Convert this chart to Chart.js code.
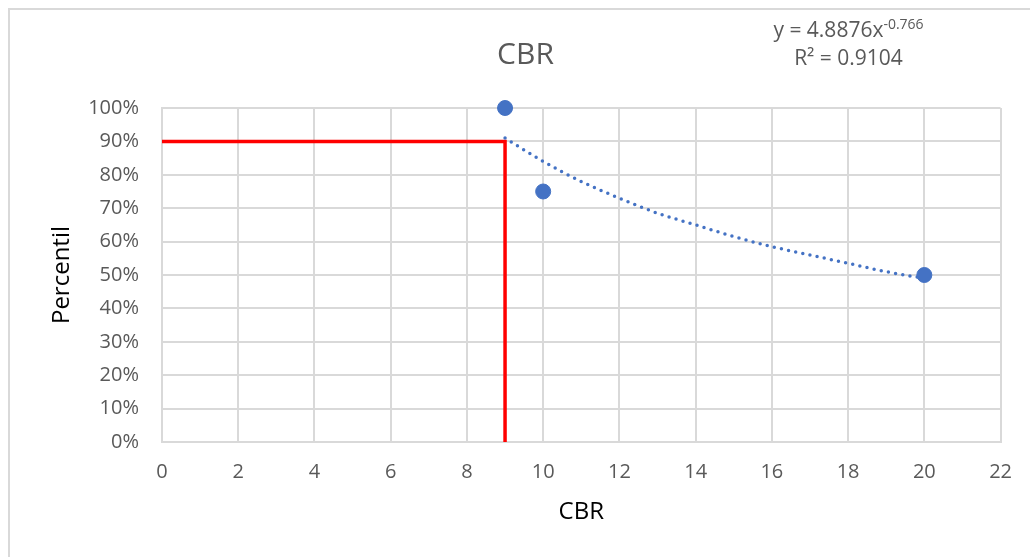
<!DOCTYPE html>
<html><head><meta charset="utf-8">
<script src="https://cdn.jsdelivr.net/npm/chart.js@4/dist/chart.umd.min.js"></script>
<style>html,body{margin:0;padding:0;background:#fff;} canvas{display:block;}</style>
</head><body>
<canvas id="c" width="1030" height="557"></canvas>
<script>
const chartTitle = "CBR";
const xAxisTitle = "CBR";
const yAxisTitle = "Percentil";
const equationMain = "y = 4.8876x";
const equationExp = "-0.766";
const rSquaredText = "R² = 0.9104";

const cbrValues = [9, 10, 20];
const percentilValues = [1.00, 0.75, 0.50];

const trendX = [9, 10, 11, 12, 13, 14, 15, 16, 17, 18, 19, 20];
const trendY = [0.91, 0.84, 0.78, 0.73, 0.685, 0.65, 0.615, 0.585, 0.56, 0.535, 0.51, 0.49];

const refX = [0, 9, 9];
const refY = [0.90, 0.90, 0];

const xTickValues = [0, 2, 4, 6, 8, 10, 12, 14, 16, 18, 20, 22];
const yTickValues = [0, 0.1, 0.2, 0.3, 0.4, 0.5, 0.6, 0.7, 0.8, 0.9, 1.0];
const yTickLabels = ["0%", "10%", "20%", "30%", "40%", "50%", "60%", "70%", "80%", "90%", "100%"];

const FONT = "'Open Sans', 'Noto Sans', sans-serif";
const GRAY = "#595959";
const GRID = "#d9d9d9";

const toPts = (xs, ys) => xs.map((x, i) => ({x: x, y: ys[i]}));

const frame = {
  id: 'frame',
  beforeDraw(chart) {
    const ctx = chart.ctx;
    ctx.save();
    ctx.fillStyle = '#fff';
    ctx.fillRect(0, 0, chart.width, chart.height);
    ctx.strokeStyle = GRID;
    ctx.lineWidth = 2;
    ctx.beginPath();
    ctx.moveTo(9, chart.height);
    ctx.lineTo(9, 9);
    ctx.lineTo(chart.width, 9);
    ctx.stroke();
    ctx.restore();
  }
};

const texts = {
  id: 'texts',
  afterDraw(chart) {
    const ctx = chart.ctx;
    ctx.save();
    ctx.fillStyle = GRAY;
    ctx.textBaseline = 'alphabetic';
    ctx.textAlign = 'center';
    ctx.font = "30px " + FONT;
    ctx.fillText(chartTitle, 525.5, 64);
    const cx = 848.5;
    ctx.font = "21px " + FONT;
    const w1 = ctx.measureText(equationMain).width;
    ctx.font = "14px " + FONT;
    const w2 = ctx.measureText(equationExp).width;
    const start = cx - (w1 + w2) / 2;
    ctx.textAlign = 'left';
    ctx.font = "21px " + FONT;
    ctx.fillText(equationMain, start, 37);
    ctx.font = "14px " + FONT;
    ctx.fillText(equationExp, start + w1, 29);
    ctx.textAlign = 'center';
    ctx.font = "21px " + FONT;
    ctx.fillText(rSquaredText, cx, 65);
    ctx.restore();
  }
};

new Chart(document.getElementById('c'), {
  type: 'scatter',
  data: {
    datasets: [
      {
        label: 'Percentil',
        data: toPts(cbrValues, percentilValues),
        backgroundColor: '#4472C4',
        borderColor: '#4472C4',
        pointRadius: 7.5,
        pointHoverRadius: 7.5,
        showLine: false,
        clip: false,
        order: 0
      },
      {
        label: 'Tendencia',
        data: toPts(trendX, trendY),
        type: 'line',
        borderColor: '#4472C4',
        borderWidth: 3.5,
        borderDash: [0, 7.3],
        borderCapStyle: 'round',
        pointRadius: 0,
        fill: false,
        cubicInterpolationMode: 'monotone',
        order: 1
      },
      {
        label: 'Referencia',
        data: toPts(refX, refY),
        type: 'line',
        borderColor: '#FF0000',
        borderWidth: 3.5,
        pointRadius: 0,
        fill: false,
        tension: 0,
        order: 2
      }
    ]
  },
  options: {
    responsive: false,
    animation: false,
    events: [],
    layout: { padding: { top: 108, right: 28, left: 0, bottom: 0 } },
    plugins: {
      legend: { display: false },
      tooltip: { enabled: false },
      title: { display: false }
    },
    scales: {
      x: {
        type: 'linear',
        min: 0, max: 22,
        afterBuildTicks: s => { s.ticks = xTickValues.map(v => ({value: v})); },
        afterFit: s => { s.height = 115; },
        grid: { color: GRID, lineWidth: 2, drawTicks: false },
        border: { color: GRID, width: 2 },
        ticks: { color: GRAY, font: { family: FONT, size: 20 }, padding: 18, maxRotation: 0 },
        title: { display: true, text: xAxisTitle, color: '#000', font: { family: FONT, size: 24 }, padding: { top: 0, bottom: 30 } }
      },
      y: {
        type: 'linear',
        min: 0, max: 1,
        afterBuildTicks: s => { s.ticks = yTickValues.map(v => ({value: v})); },
        afterFit: s => { s.width = 162; },
        grid: { color: GRID, lineWidth: 2, drawTicks: false },
        border: { color: GRID, width: 2 },
        ticks: { color: GRAY, font: { family: FONT, size: 20 }, padding: 23, callback: (v, i) => yTickLabels[i] },
        title: { display: true, text: yAxisTitle, color: '#000', font: { family: FONT, size: 24 }, padding: { top: 48, bottom: 0 } }
      }
    }
  },
  plugins: [frame, texts]
});
</script>
</body></html>
